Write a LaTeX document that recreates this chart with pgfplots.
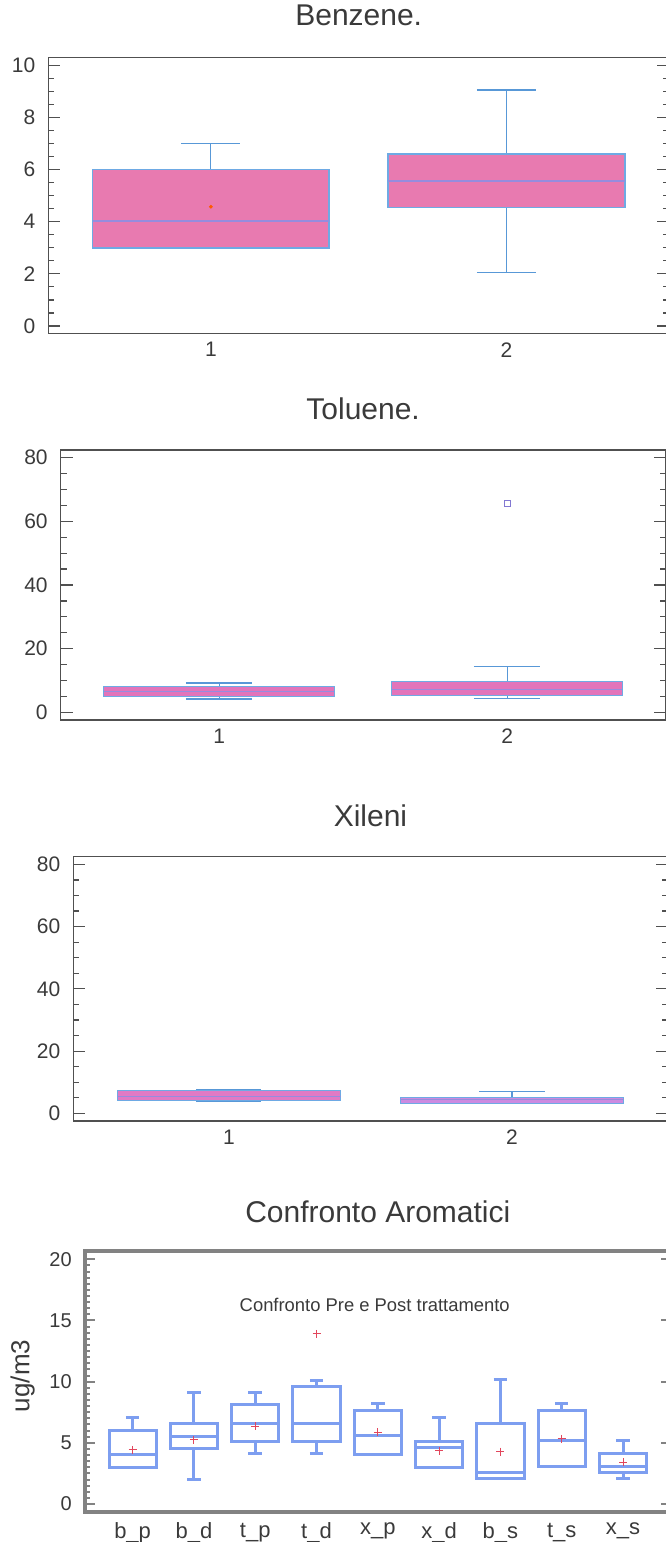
\documentclass[border=0pt]{standalone}
\usepackage{fontspec}
\setmainfont{Liberation Sans}
\usepackage{pgfplots}
\pgfplotsset{compat=1.18}
\usepgfplotslibrary{statistics}
\definecolor{txt}{RGB}{58,58,58}
\definecolor{spine}{RGB}{80,80,80}
\definecolor{spinegray}{RGB}{130,130,130}
\definecolor{pinkA}{RGB}{232,122,176}
\definecolor{pinkB}{RGB}{226,116,186}
\definecolor{pinkC}{RGB}{224,122,196}
\definecolor{lavC}{RGB}{204,138,224}
\definecolor{edgeA}{RGB}{110,170,228}
\definecolor{medA}{RGB}{150,140,222}
\definecolor{whiskA}{RGB}{88,152,215}
\definecolor{cblue}{RGB}{125,158,240}
\definecolor{meanred}{RGB}{226,70,92}
\definecolor{outl}{RGB}{130,120,210}
\pgfplotsset{
  panel/.style={
    scale only axis, anchor=north west, clip=false,
    xmin=0.45, xmax=2.55,
    xtick={1,2}, xticklabels={1,2},
    xtick style={draw=none},
    tick align=inside,
    major tick length=6pt, minor tick length=3pt,
    minor y tick num=3,
    axis line style={draw=spine, line width=0.75pt},
    ytick style={draw=spine, line width=0.6pt},
    ticklabel style={font=\fontsize{10.5}{12}\selectfont, text=txt},
    yticklabel style={xshift=-3pt},
    xticklabel style={yshift=-1pt},
    /pgf/number format/assume math mode=true,
    title style={at={(0.5,1)}, anchor=base, font=\fontsize{15}{18}\selectfont, text=txt},
  },
  pbox/.style n args={3}{
    boxplot/draw direction=y,
    boxplot/every box/.style={fill=#1, draw=#2, line width=#3},
    boxplot/every median/.style={draw=medA, line width=#3},
    boxplot/every whisker/.style={draw=whiskA, line width=0.6pt},
  },
  cbox/.style={
    boxplot/draw direction=y,
    boxplot/every box/.style={draw=cblue, line width=1.5pt},
    boxplot/every median/.style={draw=cblue, line width=1.5pt},
    boxplot/every whisker/.style={draw=cblue, line width=1.5pt},
  },
}
\begin{document}
\begin{tikzpicture}
\useasboundingbox (0,0) rectangle (332.5pt,-771pt);

% ---------------- Benzene
\begin{axis}[panel, at={(24.15pt,-28.65pt)}, width=310.4pt, height=138pt,
  ymin=-0.28, ymax=10.3, ytick={0,2,...,10},
  title={Benzene.}, title style={yshift=10pt}]
\addplot[pbox={pinkA}{edgeA}{0.8pt}, boxplot prepared={draw position=1, box extend=0.8, whisker extend=0.2,
  lower whisker=3, lower quartile=3, median=4.03, upper quartile=6, upper whisker=7}] coordinates {};
\addplot[pbox={pinkA}{edgeA}{0.8pt}, boxplot prepared={draw position=2, box extend=0.8, whisker extend=0.2,
  lower whisker=2.05, lower quartile=4.55, median=5.55, upper quartile=6.6, upper whisker=9.05}] coordinates {};
\addplot[only marks, mark=*, mark size=0.7pt, color=orange!70!red] coordinates {(1,4.57)};
\end{axis}

% ---------------- Toluene
\begin{axis}[panel, at={(30.35pt,-225pt)}, width=302.4pt, height=135pt,
  ymin=-2.4, ymax=82.4, ytick={0,20,...,80},
  title={Toluene.}, title style={yshift=9.2pt}]
\addplot[pbox={pinkB}{edgeA}{0.45pt}, boxplot prepared={draw position=1, box extend=0.8, whisker extend=0.23,
  lower whisker=4.2, lower quartile=5.1, median=6.5, upper quartile=8, upper whisker=9.2}] coordinates {};
\addplot[pbox={pinkB}{edgeA}{0.45pt}, boxplot prepared={draw position=2, box extend=0.8, whisker extend=0.23,
  lower whisker=4.4, lower quartile=5.3, median=7.1, upper quartile=9.8, upper whisker=14.5}] coordinates {};
\addplot[only marks, mark=square, mark size=1.5pt, color=outl, line width=0.6pt] coordinates {(2,65.6)};
\end{axis}

% ---------------- Xileni
\begin{axis}[panel, at={(36.65pt,-428.35pt)}, width=297.15pt, height=132.15pt,
  ymin=-2.45, ymax=82.45, ytick={0,20,...,80},
  title={Xileni}, title style={yshift=9.2pt}]
\addplot[pbox={pinkC}{edgeA}{0.45pt}, boxplot prepared={draw position=1, box extend=0.79, whisker extend=0.23,
  lower whisker=4, lower quartile=4, median=5.6, upper quartile=7.5, upper whisker=7.8}] coordinates {};
\addplot[pbox={lavC}{edgeA}{0.45pt}, boxplot prepared={draw position=2, box extend=0.79, whisker extend=0.23,
  lower whisker=3.2, lower quartile=3.2, median=4.6, upper quartile=5.2, upper whisker=7.1}] coordinates {};
\end{axis}

% ---------------- Confronto Aromatici
\begin{axis}[scale only axis, anchor=north west, clip=false,
  at={(42.4pt,-625.35pt)}, width=293pt, height=130.5pt,
  xmin=0.22, xmax=9.78, ymin=-0.63, ymax=20.7,
  xtick={1,...,9},
  xticklabels={b\_p,b\_d,t\_p,t\_d,x\_p,x\_d,b\_s,t\_s,x\_s},
  xtick style={draw=none},
  ytick={0,5,...,20}, minor y tick num=9,
  tick align=inside, major tick length=5pt, minor tick length=2.5pt,
  axis line style={draw=spinegray, line width=1.8pt},
  ytick style={draw=spinegray, line width=1pt},
  ticklabel style={font=\fontsize{10}{12}\selectfont, text=txt},
  xticklabel style={font=\fontsize{11}{13}\selectfont, yshift=-2pt},
  yticklabel style={xshift=-3pt},
  /pgf/number format/assume math mode=true,
  title={Confronto Aromatici},
  title style={at={(0.5,1)}, anchor=base, yshift=7.9pt, font=\fontsize{15}{18}\selectfont, text=txt},
  ylabel={ug/m3},
  ylabel style={at={(axis description cs:-0.106,0.52)}, anchor=center, font=\fontsize{13}{15}\selectfont, text=txt},
]
\addplot[cbox, boxplot prepared={draw position=1, box extend=0.77, whisker extend=0.22,
  lower whisker=3, lower quartile=3, median=4.07, upper quartile=6.04, upper whisker=7.08}] coordinates {};
\addplot[cbox, boxplot prepared={draw position=2, box extend=0.77, whisker extend=0.22,
  lower whisker=2.02, lower quartile=4.5, median=5.52, upper quartile=6.61, upper whisker=9.13}] coordinates {};
\addplot[cbox, boxplot prepared={draw position=3, box extend=0.77, whisker extend=0.22,
  lower whisker=4.1, lower quartile=5.08, median=6.61, upper quartile=8.11, upper whisker=9.13}] coordinates {};
\addplot[cbox, boxplot prepared={draw position=4, box extend=0.77, whisker extend=0.22,
  lower whisker=4.1, lower quartile=5.08, median=6.61, upper quartile=9.62, upper whisker=10.1}] coordinates {};
\addplot[cbox, boxplot prepared={draw position=5, box extend=0.77, whisker extend=0.22,
  lower whisker=4.02, lower quartile=4.02, median=5.57, upper quartile=7.62, upper whisker=8.2}] coordinates {};
\addplot[cbox, boxplot prepared={draw position=6, box extend=0.77, whisker extend=0.22,
  lower whisker=3, lower quartile=3, median=4.62, upper quartile=5.1, upper whisker=7.08}] coordinates {};
\addplot[cbox, boxplot prepared={draw position=7, box extend=0.77, whisker extend=0.22,
  lower whisker=2.1, lower quartile=2.1, median=2.6, upper quartile=6.61, upper whisker=10.16}] coordinates {};
\addplot[cbox, boxplot prepared={draw position=8, box extend=0.77, whisker extend=0.22,
  lower whisker=3.06, lower quartile=3.06, median=5.16, upper quartile=7.62, upper whisker=8.2}] coordinates {};
\addplot[cbox, boxplot prepared={draw position=9, box extend=0.77, whisker extend=0.22,
  lower whisker=2.1, lower quartile=2.6, median=3.06, upper quartile=4.15, upper whisker=5.16}] coordinates {};
\addplot[only marks, mark=+, mark size=2pt, color=meanred, line width=0.5pt] coordinates {
  (1,4.43) (2,5.25) (3,6.34) (4,13.9) (5,5.85) (6,4.34) (7,4.29) (8,5.33) (9,3.42)};
\node[anchor=base, font=\fontsize{9.2}{11}\selectfont, text=txt] at (axis cs:4.95,15.7) {Confronto Pre e Post trattamento};
\end{axis}
\end{tikzpicture}
\end{document}
